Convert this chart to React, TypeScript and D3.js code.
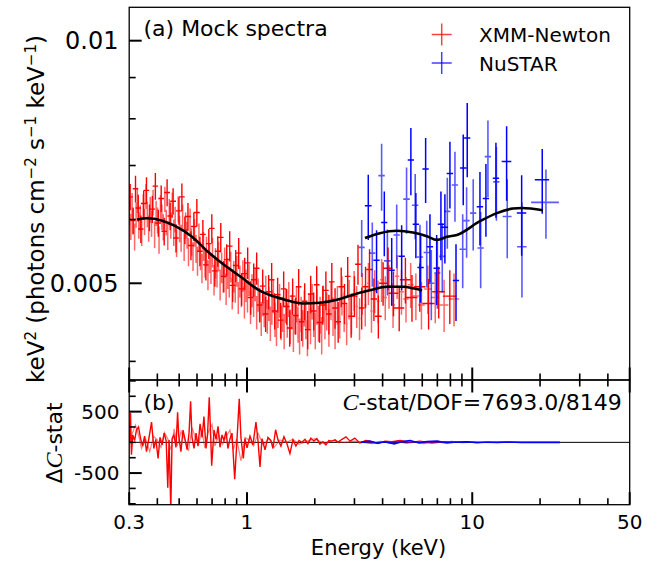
import React from 'react';
import * as d3 from 'd3';

// ---------- data (energy keV, flux, flux error, energy half-width) ----------
const xmmA: [number, number, number, number][] = [
  [0.301,0.00612,0.00022,0.0025],[0.305,0.00588,0.00022,0.0025],[0.309,0.00625,0.00022,0.0025],[0.313,0.00597,0.00022,0.0025],
  [0.317,0.00571,0.00022,0.0025],[0.322,0.00608,0.00022,0.0026],[0.326,0.00634,0.00023,0.0026],[0.331,0.00590,0.00022,0.0026],
  [0.336,0.00603,0.00022,0.0027],[0.341,0.00578,0.00022,0.0027],[0.346,0.00622,0.00023,0.0028],[0.351,0.00596,0.00022,0.0028],
  [0.356,0.00641,0.00023,0.0028],[0.361,0.00609,0.00022,0.0029],[0.366,0.00585,0.00022,0.0029],[0.372,0.00617,0.00023,0.003],
  [0.377,0.00593,0.00022,0.003],[0.383,0.00630,0.00023,0.003],[0.389,0.00575,0.00022,0.003],[0.395,0.00611,0.00022,0.003],
  [0.401,0.00599,0.00022,0.003],[0.407,0.00566,0.00022,0.003],[0.413,0.00620,0.00023,0.003],[0.419,0.00604,0.00022,0.003],
  [0.425,0.00587,0.00022,0.003],[0.432,0.00636,0.00023,0.003],[0.438,0.00595,0.00022,0.0035],[0.445,0.00572,0.00022,0.0035],
  [0.452,0.00613,0.00023,0.0035],[0.459,0.00590,0.00022,0.0035],[0.466,0.00625,0.00023,0.0035],[0.473,0.00578,0.00022,0.0035],
  [0.480,0.00600,0.00022,0.004],[0.487,0.00561,0.00022,0.004],[0.495,0.00618,0.00023,0.004],[0.502,0.00584,0.00022,0.004],
  [0.510,0.00569,0.00022,0.004],[0.518,0.00603,0.00023,0.004],[0.526,0.00555,0.00022,0.004],[0.534,0.00590,0.00022,0.004],
  [0.542,0.00574,0.00022,0.004],[0.550,0.00547,0.00022,0.0045],[0.559,0.00596,0.00023,0.0045],[0.567,0.00563,0.00022,0.0045],
  [0.576,0.00540,0.00022,0.0045],[0.585,0.00578,0.00023,0.0045],[0.594,0.00552,0.00022,0.0045],[0.603,0.00533,0.00022,0.005],
  [0.612,0.00570,0.00023,0.005],[0.622,0.00541,0.00022,0.005],[0.631,0.00522,0.00022,0.005],[0.641,0.00556,0.00023,0.005],
  [0.651,0.00530,0.00022,0.005],[0.661,0.00548,0.00023,0.005],[0.671,0.00512,0.00022,0.0055],[0.682,0.00538,0.00023,0.0055],
  [0.692,0.00521,0.00022,0.0055],[0.703,0.00546,0.00023,0.0055],[0.714,0.00505,0.00022,0.006],[0.725,0.00530,0.00023,0.006],
  [0.736,0.00516,0.00022,0.006],[0.748,0.00540,0.00023,0.006],[0.760,0.00498,0.00022,0.006],[0.772,0.00523,0.00023,0.006],
  [0.784,0.00509,0.00022,0.0065],[0.796,0.00531,0.00023,0.0065],[0.808,0.00492,0.00022,0.0065],[0.821,0.00515,0.00023,0.0065],
  [0.834,0.00502,0.00022,0.007],[0.847,0.00524,0.00023,0.007],[0.860,0.00486,0.00022,0.007],[0.874,0.00510,0.00023,0.007],
  [0.887,0.00495,0.00022,0.007],[0.901,0.00518,0.00023,0.0075],[0.915,0.00480,0.00022,0.0075],[0.930,0.00503,0.00023,0.0075],
  [0.944,0.00489,0.00022,0.0075],[0.959,0.00511,0.00023,0.008],[0.974,0.00474,0.00022,0.008],[0.990,0.00497,0.00023,0.008],
  [1.005,0.00482,0.00022,0.008],[1.021,0.00505,0.00023,0.008],[1.037,0.00467,0.00022,0.0085],[1.053,0.00490,0.00023,0.0085],
  [1.070,0.00476,0.00022,0.0085],[1.087,0.00498,0.00023,0.009],[1.104,0.00460,0.00022,0.009],[1.121,0.00484,0.00023,0.009],
  [1.139,0.00470,0.00022,0.009],[1.157,0.00452,0.00022,0.0095],[1.175,0.00478,0.00023,0.0095],[1.193,0.00463,0.00022,0.0095],
  [1.212,0.00488,0.00023,0.01],[1.231,0.00455,0.00022,0.01],[1.250,0.00472,0.00023,0.01],[1.270,0.00446,0.00022,0.01],
  [1.290,0.00467,0.00023,0.0105],[1.310,0.00482,0.00023,0.0105],[1.331,0.00451,0.00022,0.011],[1.352,0.00440,0.00022,0.011],
  [1.373,0.00463,0.00023,0.011],[1.395,0.00476,0.00023,0.011],[1.417,0.00447,0.00022,0.0115],[1.439,0.00458,0.00023,0.0115],
  [1.462,0.00436,0.00022,0.012],[1.485,0.00469,0.00023,0.012],[1.509,0.00450,0.00022,0.012],[1.533,0.00478,0.00024,0.0125],
  [1.557,0.00442,0.00022,0.0125],[1.582,0.00461,0.00023,0.013],[1.607,0.00433,0.00022,0.013],[1.633,0.00455,0.00023,0.013],
  [1.659,0.00471,0.00024,0.0135],[1.685,0.00445,0.00023,0.0135],[1.712,0.00430,0.00022,0.014],[1.740,0.00458,0.00023,0.014],
  [1.768,0.00440,0.00023,0.014],[1.796,0.00466,0.00024,0.0145],[1.825,0.00449,0.00023,0.015],[1.855,0.00428,0.00022,0.015],
  [1.885,0.00461,0.00024,0.015],[1.915,0.00443,0.00023,0.0155],[1.946,0.00475,0.00024,0.016],[1.978,0.00452,0.00023,0.016],
  [2.010,0.00437,0.00023,0.016],[2.043,0.00468,0.00024,0.0165],[2.077,0.00446,0.00023,0.017],[2.111,0.00457,0.00024,0.017],
  [2.146,0.00431,0.00023,0.0175],[2.182,0.00472,0.00025,0.018],[2.218,0.00450,0.00024,0.018],[2.26,0.00462,0.00025,0.02],
  [2.31,0.00441,0.00024,0.02],[2.36,0.00476,0.00026,0.02],[2.41,0.00455,0.00025,0.02],[2.46,0.00438,0.00024,0.021],
  [2.52,0.00470,0.00026,0.025],[2.58,0.00452,0.00025,0.025],[2.64,0.00483,0.00027,0.025],[2.70,0.00461,0.00026,0.025],
  [2.77,0.00445,0.00026,0.03],[2.84,0.00478,0.00027,0.03],[2.91,0.00459,0.00027,0.03],[2.99,0.00490,0.00028,0.03],
  [3.07,0.00468,0.00028,0.035],[3.16,0.00452,0.00027,0.035],[3.25,0.00486,0.00029,0.04],[3.35,0.00470,0.00028,0.04],
  [3.46,0.00500,0.00030,0.045],[3.57,0.00462,0.00028,0.045],[3.69,0.00489,0.00030,0.05],[3.82,0.00475,0.00029,0.05],
  [3.96,0.00505,0.00031,0.06],[4.11,0.00480,0.00030,0.07],[4.27,0.00496,0.00031,0.08],[4.45,0.00470,0.00030,0.09],
  [4.64,0.00510,0.00032,0.10],[4.85,0.00488,0.00031,0.12],[5.08,0.00478,0.00031,0.14],[5.33,0.00498,0.00032,0.16],
  [5.62,0.00482,0.00032,0.18],[5.95,0.00470,0.00032,0.2],[6.35,0.00492,0.00034,0.24],[6.85,0.00480,0.00034,0.28],
  [7.5,0.00470,0.00035,0.34],[8.3,0.00478,0.00036,0.45],
];

const xmmB: [number, number, number, number][] = [
  [0.303,0.00640,0.00024,0.008],[0.312,0.00598,0.00023,0.008],[0.320,0.00655,0.00025,0.009],[0.329,0.00620,0.00024,0.009],
  [0.338,0.00584,0.00023,0.009],[0.348,0.00628,0.00024,0.01],[0.358,0.00652,0.00025,0.01],[0.369,0.00603,0.00023,0.01],
  [0.380,0.00618,0.00024,0.011],[0.392,0.00660,0.00025,0.011],[0.404,0.00594,0.00023,0.012],[0.416,0.00637,0.00024,0.012],
  [0.429,0.00580,0.00023,0.012],[0.442,0.00648,0.00025,0.013],[0.456,0.00606,0.00024,0.013],[0.470,0.00632,0.00024,0.014],
  [0.484,0.00569,0.00023,0.014],[0.499,0.00615,0.00024,0.015],[0.514,0.00640,0.00025,0.015],[0.530,0.00582,0.00023,0.016],
  [0.547,0.00605,0.00024,0.016],[0.564,0.00557,0.00023,0.017],[0.581,0.00588,0.00024,0.017],[0.599,0.00612,0.00024,0.018],
  [0.618,0.00548,0.00023,0.018],[0.637,0.00575,0.00024,0.019],[0.657,0.00527,0.00023,0.019],[0.677,0.00560,0.00024,0.02],
  [0.698,0.00585,0.00024,0.02],[0.720,0.00518,0.00023,0.021],[0.742,0.00548,0.00024,0.022],[0.765,0.00570,0.00024,0.022],
  [0.789,0.00510,0.00023,0.023],[0.813,0.00535,0.00024,0.024],[0.838,0.00556,0.00024,0.025],[0.864,0.00497,0.00023,0.025],
  [0.891,0.00526,0.00024,0.026],[0.919,0.00545,0.00024,0.027],[0.947,0.00492,0.00023,0.028],[0.977,0.00514,0.00024,0.029],
  [1.007,0.00530,0.00024,0.03],[1.038,0.00480,0.00023,0.03],[1.071,0.00505,0.00024,0.031],[1.104,0.00522,0.00024,0.032],
  [1.138,0.00470,0.00023,0.033],[1.174,0.00496,0.00024,0.034],[1.210,0.00458,0.00023,0.035],[1.248,0.00488,0.00024,0.036],
  [1.287,0.00505,0.00025,0.037],[1.327,0.00462,0.00024,0.038],[1.368,0.00484,0.00024,0.04],[1.411,0.00450,0.00023,0.041],
  [1.455,0.00492,0.00025,0.042],[1.500,0.00468,0.00024,0.044],[1.547,0.00440,0.00023,0.045],[1.595,0.00482,0.00025,0.046],
  [1.645,0.00456,0.00024,0.048],[1.696,0.00495,0.00026,0.049],[1.749,0.00448,0.00024,0.05],[1.804,0.00475,0.00025,0.052],
  [1.860,0.00438,0.00024,0.054],[1.918,0.00485,0.00026,0.056],[1.978,0.00462,0.00025,0.057],[2.04,0.00498,0.00027,0.059],
  [2.10,0.00447,0.00025,0.061],[2.17,0.00470,0.00026,0.063],[2.24,0.00490,0.00027,0.065],[2.31,0.00458,0.00026,0.067],
  [2.38,0.00502,0.00028,0.069],[2.46,0.00466,0.00027,0.071],[2.54,0.00448,0.00026,0.074],[2.62,0.00495,0.00028,0.076],
  [2.71,0.00472,0.00027,0.079],[2.80,0.00510,0.00029,0.081],[2.90,0.00455,0.00027,0.084],[3.00,0.00482,0.00028,0.087],
  [3.11,0.00528,0.00030,0.09],[3.23,0.00466,0.00028,0.094],[3.36,0.00495,0.00029,0.1],[3.50,0.00520,0.00031,0.11],
  [3.66,0.00478,0.00029,0.12],[3.83,0.00455,0.00028,0.13],[4.02,0.00500,0.00031,0.16],[4.23,0.00522,0.00032,0.19],
  [4.47,0.00486,0.00031,0.22],[4.74,0.00466,0.00030,0.25],[5.05,0.00505,0.00033,0.28],[5.40,0.00480,0.00032,0.31],
  [5.85,0.00495,0.00034,0.35],[6.40,0.00472,0.00034,0.4],[7.10,0.00488,0.00036,0.46],[7.95,0.00482,0.00037,0.55],
];

const nustarA: [number, number, number, number][] = [
  [3.23,0.00554,0.00045,0.10],[3.60,0.00545,0.00050,0.11],[3.96,0.00680,0.00065,0.13],[4.20,0.00533,0.00050,0.14],
  [4.62,0.00574,0.00052,0.15],[5.11,0.00636,0.00060,0.17],[5.58,0.00625,0.00058,0.18],[5.86,0.00539,0.00052,0.19],
  [6.28,0.00546,0.00052,0.20],[6.58,0.00500,0.00050,0.21],[7.00,0.00515,0.00050,0.22],[7.36,0.00540,0.00053,0.23],
  [7.75,0.00614,0.00062,0.25],[8.38,0.00662,0.00066,0.27],[9.07,0.00551,0.00058,0.29],[9.44,0.00598,0.00060,0.30],
  [10.10,0.00611,0.00062,0.32],[10.90,0.00553,0.00060,0.35],[11.74,0.00718,0.00078,0.38],[12.80,0.00668,0.00070,0.41],
  [14.30,0.00605,0.00068,0.65],[16.62,0.00555,0.00075,0.80],[21.24,0.00630,0.00062,3.0],
];

const nustarB: [number, number, number, number][] = [
  [3.455,0.00624,0.00058,0.12],[3.76,0.00534,0.00048,0.12],[4.07,0.00595,0.00055,0.13],[4.39,0.00519,0.00050,0.14],
  [4.86,0.00540,0.00050,0.16],[5.34,0.00711,0.00068,0.17],[5.62,0.00592,0.00055,0.18],[5.90,0.00523,0.00050,0.19],
  [6.21,0.00693,0.00064,0.20],[6.49,0.00555,0.00054,0.21],[6.95,0.00522,0.00052,0.22],[7.26,0.00592,0.00058,0.23],
  [7.56,0.00587,0.00058,0.24],[7.96,0.00684,0.00065,0.26],[8.47,0.00504,0.00055,0.27],[9.12,0.00695,0.00070,0.29],
  [9.50,0.00757,0.00080,0.30],[10.82,0.00622,0.00065,0.35],[11.50,0.00637,0.00066,0.37],[12.74,0.00675,0.00072,0.41],
  [14.21,0.00708,0.00075,0.70],[16.57,0.00611,0.00070,0.80],[20.45,0.00672,0.00062,1.5],
];

const xmmModelE = [0.325,0.36,0.42,0.479,0.57,0.671,0.799,0.95,1.119,1.331,1.475,1.773,2.109,2.508,2.954,3.515,4.182,4.925,5.455,5.98];
const xmmModelF = [0.00600,0.00602,0.00598,0.00589,0.00571,0.00547,0.00526,0.00508,0.00491,0.00481,0.00477,0.00472,0.00473,0.00477,0.00484,0.00490,0.00495,0.00495,0.00493,0.00490];
const nuModelE = [3.34,3.89,4.63,5.455,6.29,6.97,7.72,8.55,10.82,12.87,15.16,16.62,20.6];
const nuModelF = [0.00569,0.00577,0.00581,0.00578,0.00572,0.00566,0.00571,0.00574,0.00597,0.00611,0.00619,0.00620,0.00616];

// residuals (energy keV, delta C-stat)
const residXmmA: [number, number][] = [
  [0.301,0],[0.304,480],[0.307,-200],[0.311,120],[0.317,30],[0.323,200],[0.330,250],[0.337,60],[0.344,-60],[0.351,100],
  [0.358,-150],[0.366,40],[0.377,330],[0.386,-100],[0.394,50],[0.403,-260],[0.411,80],[0.420,-40],[0.429,150],[0.438,20],
  [0.445,-740],[0.451,40],[0.459,-1100],[0.465,60],[0.474,120],[0.484,-80],[0.492,490],[0.498,100],[0.509,-150],[0.520,200],
  [0.531,50],[0.542,-120],[0.553,150],[0.562,670],[0.570,80],[0.582,-100],[0.594,150],[0.606,-60],[0.619,300],[0.632,80],
  [0.644,420],[0.658,-100],[0.668,120],[0.680,735],[0.690,100],[0.697,-380],[0.714,200],[0.729,50],[0.744,260],[0.759,-80],
  [0.775,120],[0.790,30],[0.807,180],[0.823,-100],[0.841,60],[0.858,150],[0.882,-600],[0.903,50],[0.924,708],[0.940,80],
  [0.963,-260],[0.980,60],[1.0,-90],[1.031,100],[1.063,-40],[1.096,330],[1.119,30],[1.142,-400],[1.166,60],[1.202,-120],
  [1.239,80],[1.278,30],[1.304,-100],[1.340,205],[1.373,40],[1.415,-60],[1.459,90],[1.504,-20],[1.551,-180],[1.600,40],
  [1.649,-60],[1.701,30],[1.754,0],[1.809,50],[1.864,-20],[1.922,70],[1.981,20],[2.043,60],[2.107,-30],[2.172,10],
  [2.24,-40],[2.31,30],[2.38,20],[2.46,40],[2.53,0],[2.64,50],[2.75,90],[2.87,20],[3.01,70],[3.17,-10],[3.37,30],
  [3.59,10],[3.81,-20],[4.10,20],[4.40,10],[4.78,30],[5.29,0],[5.86,20],[6.6,-10],[7.56,10],[8.5,0],
];

const residXmmB: [number, number][] = [
  [0.30,0],[0.31,150],[0.32,280],[0.33,120],[0.34,-100],[0.355,60],[0.37,-150],[0.385,100],[0.40,40],[0.415,-80],
  [0.43,160],[0.445,60],[0.46,-120],[0.475,220],[0.49,-60],[0.51,180],[0.53,40],[0.55,-140],[0.57,240],[0.59,80],
  [0.61,-40],[0.63,200],[0.65,-90],[0.67,150],[0.70,290],[0.72,-60],[0.75,120],[0.78,-30],[0.81,100],[0.84,200],
  [0.87,-120],[0.90,60],[0.94,-300],[0.98,80],[1.02,40],[1.07,-60],[1.12,150],[1.18,-40],[1.25,60],[1.32,-80],
  [1.40,40],[1.50,0],[1.6,50],[1.7,-30],[1.85,20],[2.0,60],[2.2,-20],[2.4,30],[2.7,0],[3.0,20],[3.5,-10],[4.5,10],[6,0],[8,0],
];

const residNuA: [number, number][] = [
  [3.2,0],[3.5,20],[3.8,-15],[4.1,10],[4.5,-25],[4.9,15],[5.3,30],[5.8,-10],[6.3,15],[7.0,20],[7.7,-10],[8.5,5],
  [9.5,10],[10.5,-5],[11.7,5],[13,0],[14.5,5],[16.5,0],[18.5,0],[21,0],[24.5,0],
];
const residNuB: [number, number][] = [
  [3.3,0],[3.6,-20],[3.9,15],[4.3,-10],[4.7,20],[5.1,-15],[5.6,10],[6.1,-20],[6.7,10],[7.4,-5],[8.1,15],[9.0,-5],
  [10,5],[11,0],[12.3,-5],[14,5],[16,0],[19,0],[24.5,0],
];

const xMajor = [0.3, 1, 10, 50];
const xMajorLabels = ['0.3', '1', '10', '50'];
const xMinor = [0.4,0.5,0.6,0.7,0.8,0.9,2,3,4,5,6,7,8,9,20,30,40];
const yTopMajor = [0.005, 0.01];
const yTopMajorLabels = ['0.005', '0.01'];
const yTopMinor = [0.004, 0.006, 0.007, 0.008, 0.009];
const yBotMajor = [-500, 500];
const yBotMajorLabels = ['-500', '500'];
const yBotMinor = [-1000, -750, -250, 0, 250, 750, 1000];

const FONT = 'DejaVu Sans';

export default function App() {
  const L = 129.2, R = 629.7, T = 7.3, M = 380, B = 504.7;
  const x = d3.scaleLog().domain([0.3, 50]).range([L, R]);
  const yT = d3.scaleLog().domain([0.0037927, 0.011001]).range([M, T]);
  const yB = d3.scaleLinear().domain([-1015, 1015]).range([B, M]);

  const errPath = (pts: [number, number, number, number][]) =>
    pts.map(([e, f, df, hw]) => {
      const cx = x(e), cy = yT(f);
      return `M${cx},${yT(f - df)}V${yT(f + df)}M${x(e - hw)},${cy}H${x(e + hw)}`;
    }).join('');

  const xmmModel = d3.line<number>().curve(d3.curveMonotoneX)
    .x((_, i) => x(xmmModelE[i])).y((_, i) => yT(xmmModelF[i]))(xmmModelE.map((d) => d)) || '';
  const nuModel = d3.line<number>().curve(d3.curveMonotoneX)
    .x((_, i) => x(nuModelE[i])).y((_, i) => yT(nuModelF[i]))(nuModelE.map((d) => d)) || '';

  const resLine = d3.line<[number, number]>().x((d) => x(d[0])).y((d) => yB(d[1]));

  const majLen = 12.5, minLen = 6.5;

  return (
    <svg width={657} height={562} style={{ position: 'absolute', left: 0, top: 0, background: '#fff' }}
      fontFamily={FONT}>
      <defs>
        <clipPath id="clipTop"><rect x={L} y={T} width={R - L} height={M - T} /></clipPath>
        <clipPath id="clipBot"><rect x={L} y={M} width={R - L} height={B - M} /></clipPath>
      </defs>
      <rect x={0} y={0} width={657} height={562} fill="#fff" />

      {/* top panel data */}
      <g clipPath="url(#clipTop)" fill="none">
        <path d={errPath(xmmA)} stroke="rgba(255,0,0,0.6)" strokeWidth={1.5} />
        <path d={errPath(xmmB)} stroke="#ff0000" strokeWidth={1.4} />
        <path d={errPath(nustarA)} stroke="rgba(0,0,255,0.65)" strokeWidth={1.6} />
        <path d={errPath(nustarB)} stroke="#0000ff" strokeWidth={1.5} />
        <path d={xmmModel} stroke="#000" strokeWidth={2.6} />
        <path d={nuModel} stroke="#000" strokeWidth={2.6} />
      </g>

      {/* bottom panel */}
      <g clipPath="url(#clipBot)" fill="none">
        <line x1={L} x2={R} y1={yB(0)} y2={yB(0)} stroke="#000" strokeWidth={1} />
        <path d={resLine(residXmmB) || ''} stroke="rgba(255,0,0,0.5)" strokeWidth={1.2} />
        <path d={resLine(residXmmA) || ''} stroke="#ff0000" strokeWidth={1.4} />
        <path d={resLine(residNuB) || ''} stroke="rgba(0,0,255,0.5)" strokeWidth={1.4} />
        <path d={resLine(residNuA) || ''} stroke="#0000ff" strokeWidth={1.6} />
      </g>

      {/* frames */}
      <rect x={L} y={T} width={R - L} height={M - T} fill="none" stroke="#000" strokeWidth={1.3} />
      <rect x={L} y={M} width={R - L} height={B - M} fill="none" stroke="#000" strokeWidth={1.3} />

      {/* ticks */}
      <g stroke="#000">
        {xMajor.map((v, i) => (
          <g key={'xM' + i} strokeWidth={2}>
            <line x1={x(v)} x2={x(v)} y1={M} y2={M - majLen} />
            <line x1={x(v)} x2={x(v)} y1={M} y2={M + majLen} />
            <line x1={x(v)} x2={x(v)} y1={B} y2={B - majLen} />
          </g>
        ))}
        {xMinor.map((v, i) => (
          <g key={'xm' + i} strokeWidth={1.6}>
            <line x1={x(v)} x2={x(v)} y1={M} y2={M - minLen} />
            <line x1={x(v)} x2={x(v)} y1={M} y2={M + minLen} />
            <line x1={x(v)} x2={x(v)} y1={B} y2={B - minLen} />
          </g>
        ))}
        {yTopMajor.map((v, i) => (
          <line key={'yTM' + i} x1={L} x2={L + majLen} y1={yT(v)} y2={yT(v)} strokeWidth={2} />
        ))}
        {yTopMinor.map((v, i) => (
          <line key={'yTm' + i} x1={L} x2={L + minLen} y1={yT(v)} y2={yT(v)} strokeWidth={1.6} />
        ))}
        {yBotMajor.map((v, i) => (
          <line key={'yBM' + i} x1={L} x2={L + majLen} y1={yB(v)} y2={yB(v)} strokeWidth={2} />
        ))}
        {yBotMinor.map((v, i) => (
          <line key={'yBm' + i} x1={L} x2={L + minLen} y1={yB(v)} y2={yB(v)} strokeWidth={1.6} />
        ))}
      </g>

      {/* tick labels */}
      <g fill="#000">
        {xMajor.map((v, i) => (
          <text key={'xl' + i} x={x(v)} y={528.5} fontSize={20} textAnchor="middle">{xMajorLabels[i]}</text>
        ))}
        {yTopMajor.map((v, i) => (
          <text key={'ytl' + i} x={118.5} y={yT(v)} dy="0.36em" fontSize={24} textAnchor="end">{yTopMajorLabels[i]}</text>
        ))}
        {yBotMajor.map((v, i) => (
          <text key={'ybl' + i} x={119.5} y={yB(v)} dy="0.36em" fontSize={20} textAnchor="end">{yBotMajorLabels[i]}</text>
        ))}
      </g>

      {/* axis labels */}
      <text x={378.5} y={555} fontSize={21} textAnchor="middle">Energy (keV)</text>
      <text transform="translate(44,209) rotate(-90)" fontSize={23} textAnchor="middle">
        keV<tspan dy={-8} fontSize={15}>2</tspan>
        <tspan dy={8}> (photons cm</tspan><tspan dy={-8} fontSize={15}>−2</tspan>
        <tspan dy={8}> s</tspan><tspan dy={-8} fontSize={15}>−1</tspan>
        <tspan dy={8}> keV</tspan><tspan dy={-8} fontSize={15}>−1</tspan>
        <tspan dy={8}>)</tspan>
      </text>
      <text transform="translate(62,443) rotate(-90)" fontSize={22} textAnchor="middle">
        Δ<tspan fontFamily="Liberation Serif" fontStyle="italic" fontSize={24}>C</tspan>-stat
      </text>

      {/* annotations */}
      <text x={143.5} y={36} fontSize={22}>(a) Mock spectra</text>
      <text x={143.5} y={410} fontSize={22}>(b)</text>
      <text x={621.7} y={409.5} fontSize={22} textAnchor="end">
        <tspan fontFamily="Liberation Serif" fontStyle="italic" fontSize={24}>C</tspan>-stat/DOF=7693.0/8149
      </text>

      {/* legend */}
      <g strokeWidth={1.5}>
        <line x1={431.7} x2={451.7} y1={34.5} y2={34.5} stroke="rgba(255,0,0,0.75)" />
        <line x1={441.7} x2={441.7} y1={23.5} y2={45.5} stroke="rgba(255,0,0,0.75)" />
        <line x1={431.7} x2={451.7} y1={63} y2={63} stroke="rgba(0,0,255,0.75)" />
        <line x1={441.7} x2={441.7} y1={52} y2={74} stroke="rgba(0,0,255,0.75)" />
      </g>
      <text x={479} y={41.5} fontSize={20}>XMM-Newton</text>
      <text x={479} y={70.5} fontSize={20}>NuSTAR</text>
    </svg>
  );
}
